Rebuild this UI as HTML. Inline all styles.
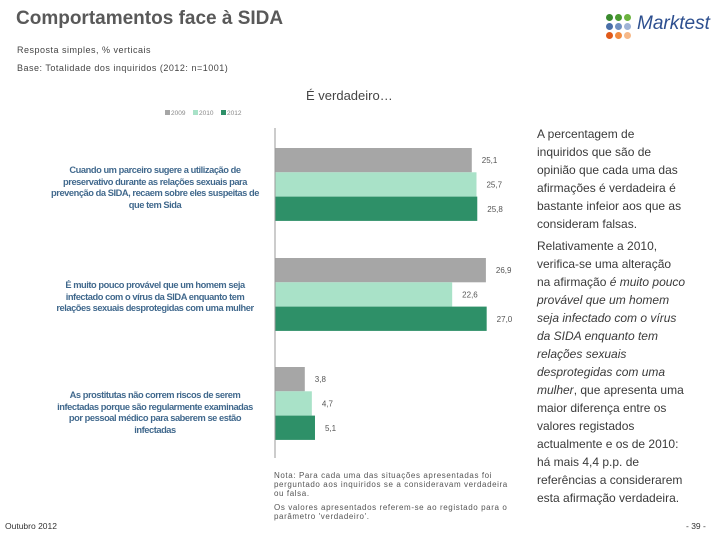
<!DOCTYPE html>
<html><head><meta charset="utf-8"><style>
body{margin:0;width:720px;height:540px;background:#fff;font-family:"Liberation Sans",sans-serif;position:relative;overflow:hidden}
.a{position:absolute}
.t{color:#595959;font-size:19px;font-weight:bold;left:16px;top:8px}
.s{font-size:9px;color:#444;left:17px;letter-spacing:0.5px}
.lab{color:#1f4e79;font-size:9.3px;text-align:center;line-height:11.5px;width:210px;left:50px;font-weight:bold;opacity:.85;letter-spacing:-0.45px}
.rt{left:537px;top:125px;width:150px;font-size:12px;line-height:18px;color:#3a3a3a}
.rt p{margin:0 0 4px 0}
.note{left:274px;top:471px;width:245px;font-size:8px;line-height:9px;color:#555;letter-spacing:0.6px}
.dot{position:absolute;width:7px;height:7px;border-radius:50%}
</style></head><body>
<div class="a t">Comportamentos face à SIDA</div>
<div class="a s" style="top:45px">Resposta simples, % verticais</div>
<div class="a s" style="top:63px">Base: Totalidade dos inquiridos (2012: n=1001)</div>
<div class="a" style="left:606px;top:14px;width:28px;height:28px">
<div class="dot" style="left:0;top:0;background:#3a8a2e"></div><div class="dot" style="left:9px;top:0;background:#4a9a30"></div><div class="dot" style="left:18px;top:0;background:#6cb33f"></div>
<div class="dot" style="left:0;top:9px;background:#4a6fa8"></div><div class="dot" style="left:9px;top:9px;background:#6f8fc0"></div><div class="dot" style="left:18px;top:9px;background:#9fb3d6"></div>
<div class="dot" style="left:0;top:18px;background:#e05a1a"></div><div class="dot" style="left:9px;top:18px;background:#f08a40"></div><div class="dot" style="left:18px;top:18px;background:#f6b888"></div>
</div>
<div class="a" style="left:637px;top:13px;font-size:19px;font-style:italic;color:#2d4f8f">Marktest</div>
<div class="a" style="left:306px;top:88px;font-size:13px;color:#444">É verdadeiro…</div>
<div class="a lab" style="top:165px">Cuando um parceiro sugere a utilização de preservativo durante as relações sexuais para prevenção da SIDA, recaem sobre eles suspeitas de que tem Sida</div>
<div class="a lab" style="top:280px">É muito pouco provável que um homem seja infectado com o vírus da SIDA enquanto tem relações sexuais desprotegidas com uma mulher</div>
<div class="a lab" style="top:390px">As prostitutas não correm riscos de serem infectadas porque são regularmente examinadas por pessoal médico para saberem se estão infectadas</div>
<svg class="a" style="left:0;top:0" width="720" height="540" id="chart"></svg>
<div class="a rt">
<p>A percentagem de inquiridos que são de opinião que cada uma das afirmações é verdadeira é bastante infeior aos que as consideram falsas.</p>
<p>Relativamente a 2010, verifica-se uma alteração na afirmação <i>é muito pouco provável que um homem seja infectado com o vírus da SIDA enquanto tem relações sexuais desprotegidas com uma mulher</i>, que apresenta uma maior diferença entre os valores registados actualmente e os de 2010: há mais 4,4 p.p. de referências a considerarem esta afirmação verdadeira.</p>
</div>
<div class="a note">Nota: Para cada uma das situações apresentadas foi perguntado aos inquiridos se a consideravam verdadeira ou falsa.<div style="height:5px"></div>Os valores apresentados referem-se ao registado para o parâmetro 'verdadeiro'.</div>
<div class="a" style="left:5px;top:521px;font-size:8.5px;color:#333">Outubro 2012</div>
<div class="a" style="left:686px;top:521px;font-size:8.5px;color:#333">- 39 -</div>
<script>
const years=["2009","2010","2012"];
const colors=["#a6a6a6","#a9e2c8","#2e9068"];
const v2009=[25.1,26.9,3.8];
const v2010=[25.7,22.6,4.7];
const v2012=[25.8,27.0,5.1];
const series=[v2009,v2010,v2012];
const ns="http://www.w3.org/2000/svg";
const svg=document.getElementById('chart');
const x0=275,k=7.84;
const xs=v=>x0+v*k;
const groupTop=[148,258,367],barH=24.3;
function mk(t,a){const e=document.createElementNS(ns,t);for(const n in a)e.setAttribute(n,a[n]);svg.appendChild(e);return e;}
for(let g=0;g<3;g++){for(let s=0;s<3;s++){const y=groupTop[g]+s*barH;const v=series[s][g];
const r=mk('rect',{x:x0,y:y,width:xs(v)-x0,height:barH,fill:colors[s]});


const t=mk('text',{x:xs(v)+10,y:y+barH/2+3,'font-size':8,fill:'#555','font-family':'Liberation Sans, sans-serif'});
t.textContent=v.toFixed(1).replace('.',',');

}}
const ax=mk('line',{x1:x0,y1:128,x2:x0,y2:458,stroke:'#999','stroke-width':1});


for(let s=0;s<3;s++){const lx=165+s*28;
const r=mk('rect',{x:lx,y:110,width:5,height:5,fill:colors[s]});


const t=mk('text',{x:lx+6,y:115,'font-size':6.5,fill:'#888','font-family':'Liberation Sans, sans-serif'});
t.textContent=years[s];

}
</script>
</body></html>
